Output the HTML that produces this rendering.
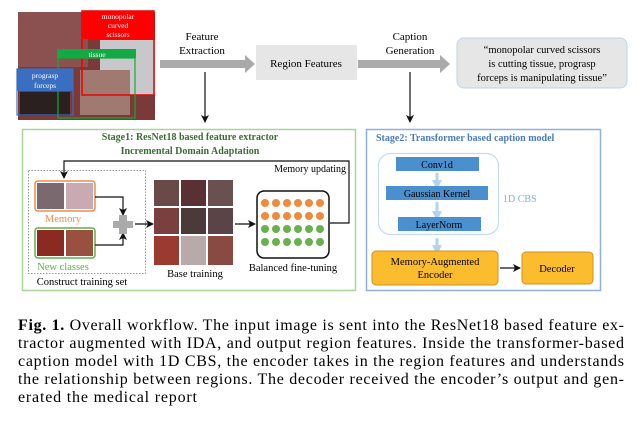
<!DOCTYPE html>
<html><head><meta charset="utf-8"><style>
html,body{margin:0;padding:0;background:#fff;width:641px;height:422px;overflow:hidden}
svg text{font-family:"Liberation Serif",serif}
</style></head><body>
<svg width="641" height="422" viewBox="0 0 641 422" xmlns="http://www.w3.org/2000/svg">
<defs>
<marker id="ah" markerWidth="8" markerHeight="8" refX="7" refY="4" orient="auto" markerUnits="userSpaceOnUse"><path d="M0,0 L8,4 L0,8 L2,4z" fill="#111"/></marker>
<marker id="ahb" markerWidth="10" markerHeight="10" refX="5" refY="5" orient="auto" markerUnits="userSpaceOnUse"><path d="M0,0 L10,5 L0,10z" fill="#b5d3ef"/></marker>
</defs>
<rect x="18" y="12" width="137" height="108" fill="#7a3a3a"/>
<rect x="18" y="12" width="70" height="55" fill="#8b5050"/>
<rect x="100" y="40" width="55" height="55" fill="#c8c8cc"/>
<rect x="80" y="70" width="50" height="45" fill="#a07a70"/>
<rect x="20" y="92" width="50" height="24" fill="#2a2020"/>
<rect x="82" y="11" width="72" height="84" fill="none" stroke="#e00" stroke-width="1.5"/>
<rect x="82" y="11" width="72" height="28" fill="#f00"/>
<text x="118" y="19" font-size="7.5" fill="#fff" text-anchor="middle">monopolar</text>
<text x="118" y="28" font-size="7.5" fill="#fff" text-anchor="middle">curved</text>
<text x="118" y="37" font-size="7.5" fill="#fff" text-anchor="middle">scissors</text>
<rect x="58" y="58" width="77" height="60" fill="none" stroke="#1a3" stroke-width="1.2"/>
<rect x="57" y="49" width="79" height="9" fill="#1a4"/>
<text x="97" y="57" font-size="7.5" fill="#fff" text-anchor="middle">tissue</text>
<rect x="17" y="69" width="56" height="46" fill="none" stroke="#3a6ec0" stroke-width="1.2"/>
<rect x="17" y="69" width="56" height="22" fill="#3a6ec0"/>
<text x="45" y="78" font-size="7.5" fill="#fff" text-anchor="middle">prograsp</text>
<text x="45" y="88" font-size="7.5" fill="#fff" text-anchor="middle">forceps</text>
<text x="202" y="40" font-size="11" text-anchor="middle">Feature</text>
<text x="202" y="54" font-size="11" text-anchor="middle">Extraction</text>
<path d="M160,60 H245 V55 L255,64 L245,73 V68 H160z" fill="#aaa"/>
<rect x="256" y="45" width="101" height="35" fill="#e6e6e6"/>
<text x="306" y="67" font-size="11" text-anchor="middle">Region Features</text>
<path d="M358,60 H440 V55 L450,64 L440,73 V68 H358z" fill="#aaa"/>
<text x="410" y="40" font-size="11" text-anchor="middle">Caption</text>
<text x="410" y="54" font-size="11" text-anchor="middle">Generation</text>
<rect x="457" y="38" width="170" height="50" rx="7" fill="#e6e6e6" stroke="#b8d4ec" stroke-width="1"/>
<text x="542" y="53" font-size="10.5" text-anchor="middle">“monopolar curved scissors</text>
<text x="542" y="67" font-size="10.5" text-anchor="middle">is cutting tissue, prograsp</text>
<text x="542" y="81" font-size="10.5" text-anchor="middle">forceps is manipulating tissue”</text>
<line x1="205" y1="72" x2="205" y2="122" stroke="#111" stroke-width="1.2" marker-end="url(#ah)"/>
<line x1="410" y1="72" x2="410" y2="122" stroke="#111" stroke-width="1.2" marker-end="url(#ah)"/>
<rect x="22.5" y="129.5" width="333" height="161" fill="none" stroke="#a9d49a" stroke-width="1.5"/>
<text x="190" y="140" font-size="10" font-weight="bold" fill="#3d6b35" text-anchor="middle">Stage1: ResNet18 based feature extractor</text>
<text x="190" y="154" font-size="10" font-weight="bold" fill="#3d6b35" text-anchor="middle">Incremental Domain Adaptation</text>
<polyline points="330,223 349,223 349,161 64,161 64,178" fill="none" stroke="#111" stroke-width="1.2" marker-end="url(#ah)"/>
<text x="346" y="172" font-size="10" text-anchor="end">Memory updating</text>
<rect x="28.5" y="170.5" width="117" height="103" fill="none" stroke="#999" stroke-dasharray="1.5,1.5"/>
<rect x="35" y="181" width="60" height="30" rx="3" fill="#fff" stroke="#f08a4b" stroke-width="1.5"/>
<rect x="37" y="183" width="27" height="26" fill="#7a6a70"/><rect x="66" y="183" width="27" height="26" fill="#c8aab0"/>
<text x="63" y="222" font-size="10.5" fill="#f08a4b" text-anchor="middle">Memory</text>
<rect x="35" y="228" width="60" height="30" rx="3" fill="#fff" stroke="#5fae4a" stroke-width="1.5"/>
<rect x="37" y="230" width="27" height="26" fill="#8a2a20"/><rect x="66" y="230" width="27" height="26" fill="#9a5040"/>
<text x="63" y="270" font-size="10.5" fill="#5fae4a" text-anchor="middle">New classes</text>
<polyline points="95,197 123,197 123,215" fill="none" stroke="#111" stroke-width="1.2" marker-end="url(#ah)"/>
<polyline points="95,245 123,245 123,233" fill="none" stroke="#111" stroke-width="1.2" marker-end="url(#ah)"/>
<path d="M119,215 h8 v6 h6 v7 h-6 v6 h-8 v-6 h-6 v-7 h6z" fill="#aaa"/>
<line x1="135" y1="224" x2="153" y2="224" stroke="#111" stroke-width="1.2" marker-end="url(#ah)"/>
<g>
<rect x="154" y="180" width="25" height="26" fill="#6a4a48"/><rect x="181" y="180" width="25" height="26" fill="#5a3034"/><rect x="208" y="180" width="25" height="26" fill="#6a5050"/>
<rect x="154" y="208" width="25" height="26" fill="#7a4040"/><rect x="181" y="208" width="25" height="26" fill="#4a3a3a"/><rect x="208" y="208" width="25" height="26" fill="#5a4448"/>
<rect x="154" y="236" width="25" height="29" fill="#9a3a30"/><rect x="181" y="236" width="25" height="29" fill="#b8aaa8"/><rect x="208" y="236" width="25" height="29" fill="#8a4a44"/>
</g>
<text x="195" y="277" font-size="10.5" text-anchor="middle">Base training</text>
<line x1="235" y1="224" x2="255" y2="224" stroke="#111" stroke-width="1.2" marker-end="url(#ah)"/>
<rect x="257" y="191" width="72" height="67" rx="7" fill="#fff" stroke="#111" stroke-width="1.5"/>
<g fill="#f08a3c">
<circle cx="265" cy="203" r="4"/><circle cx="276" cy="203" r="4"/><circle cx="287" cy="203" r="4"/><circle cx="298" cy="203" r="4"/><circle cx="309" cy="203" r="4"/><circle cx="320" cy="203" r="4"/>
<circle cx="265" cy="216" r="4"/><circle cx="276" cy="216" r="4"/><circle cx="287" cy="216" r="4"/><circle cx="298" cy="216" r="4"/><circle cx="309" cy="216" r="4"/><circle cx="320" cy="216" r="4"/>
</g>
<g fill="#6ab04c">
<circle cx="265" cy="229" r="4"/><circle cx="276" cy="229" r="4"/><circle cx="287" cy="229" r="4"/><circle cx="298" cy="229" r="4"/><circle cx="309" cy="229" r="4"/><circle cx="320" cy="229" r="4"/>
<circle cx="265" cy="242" r="4"/><circle cx="276" cy="242" r="4"/><circle cx="287" cy="242" r="4"/><circle cx="298" cy="242" r="4"/><circle cx="309" cy="242" r="4"/><circle cx="320" cy="242" r="4"/>
</g>
<text x="293" y="271" font-size="10.5" text-anchor="middle">Balanced fine-tuning</text>
<text x="82" y="285" font-size="10.5" text-anchor="middle">Construct training set</text>
<rect x="366.5" y="129.5" width="234" height="161" fill="none" stroke="#8fb0dd" stroke-width="1.5"/>
<text x="376" y="141" font-size="10" font-weight="bold" fill="#4a7cc0">Stage2: Transformer based caption model</text>
<rect x="378.5" y="153.5" width="120" height="81" rx="12" fill="none" stroke="#c5dcf0" stroke-width="1.2"/>
<rect x="396" y="157" width="83" height="14" fill="#4a90cf"/>
<text x="437" y="168" font-size="10" text-anchor="middle">Conv1d</text>
<line x1="437" y1="173" x2="437" y2="185" stroke="#b5d3ef" stroke-width="3" marker-end="url(#ahb)"/>
<rect x="386" y="186" width="102" height="14" fill="#4a90cf"/>
<text x="437" y="197" font-size="10" text-anchor="middle">Gaussian Kernel</text>
<line x1="437" y1="202" x2="437" y2="216" stroke="#b5d3ef" stroke-width="3" marker-end="url(#ahb)"/>
<rect x="398" y="217" width="83" height="14" fill="#4a90cf"/>
<text x="439" y="228" font-size="10" text-anchor="middle">LayerNorm</text>
<text x="503" y="202" font-size="10" fill="#7fb0e0">1D CBS</text>
<line x1="437" y1="238" x2="437" y2="250" stroke="#b5d3ef" stroke-width="3" marker-end="url(#ahb)"/>
<rect x="372" y="251" width="126" height="34" rx="4" fill="#fbbd2e" stroke="#d09020"/>
<text x="435" y="265" font-size="10.5" text-anchor="middle">Memory-Augmented</text>
<text x="435" y="278" font-size="10.5" text-anchor="middle">Encoder</text>
<line x1="500" y1="268" x2="520" y2="268" stroke="#111" stroke-width="1.2" marker-end="url(#ah)"/>
<rect x="522" y="252" width="71" height="32" rx="4" fill="#fbbd2e" stroke="#d09020"/>
<text x="557" y="272" font-size="10.5" text-anchor="middle">Decoder</text>
<g font-size="16">
<text x="18" y="330" textLength="606" lengthAdjust="spacing"><tspan font-weight="bold">Fig. 1.</tspan> Overall workflow. The input image is sent into the ResNet18 based feature ex-</text>
<text x="18" y="348" textLength="606" lengthAdjust="spacing">tractor augmented with IDA, and output region features. Inside the transformer-based</text>
<text x="18" y="366" textLength="606" lengthAdjust="spacing">caption model with 1D CBS, the encoder takes in the region features and understands</text>
<text x="18" y="384" textLength="606" lengthAdjust="spacing">the relationship between regions. The decoder received the encoder’s output and gen-</text>
<text x="18" y="402" textLength="179" lengthAdjust="spacing">erated the medical report</text>
</g>
</svg>
</body></html>
